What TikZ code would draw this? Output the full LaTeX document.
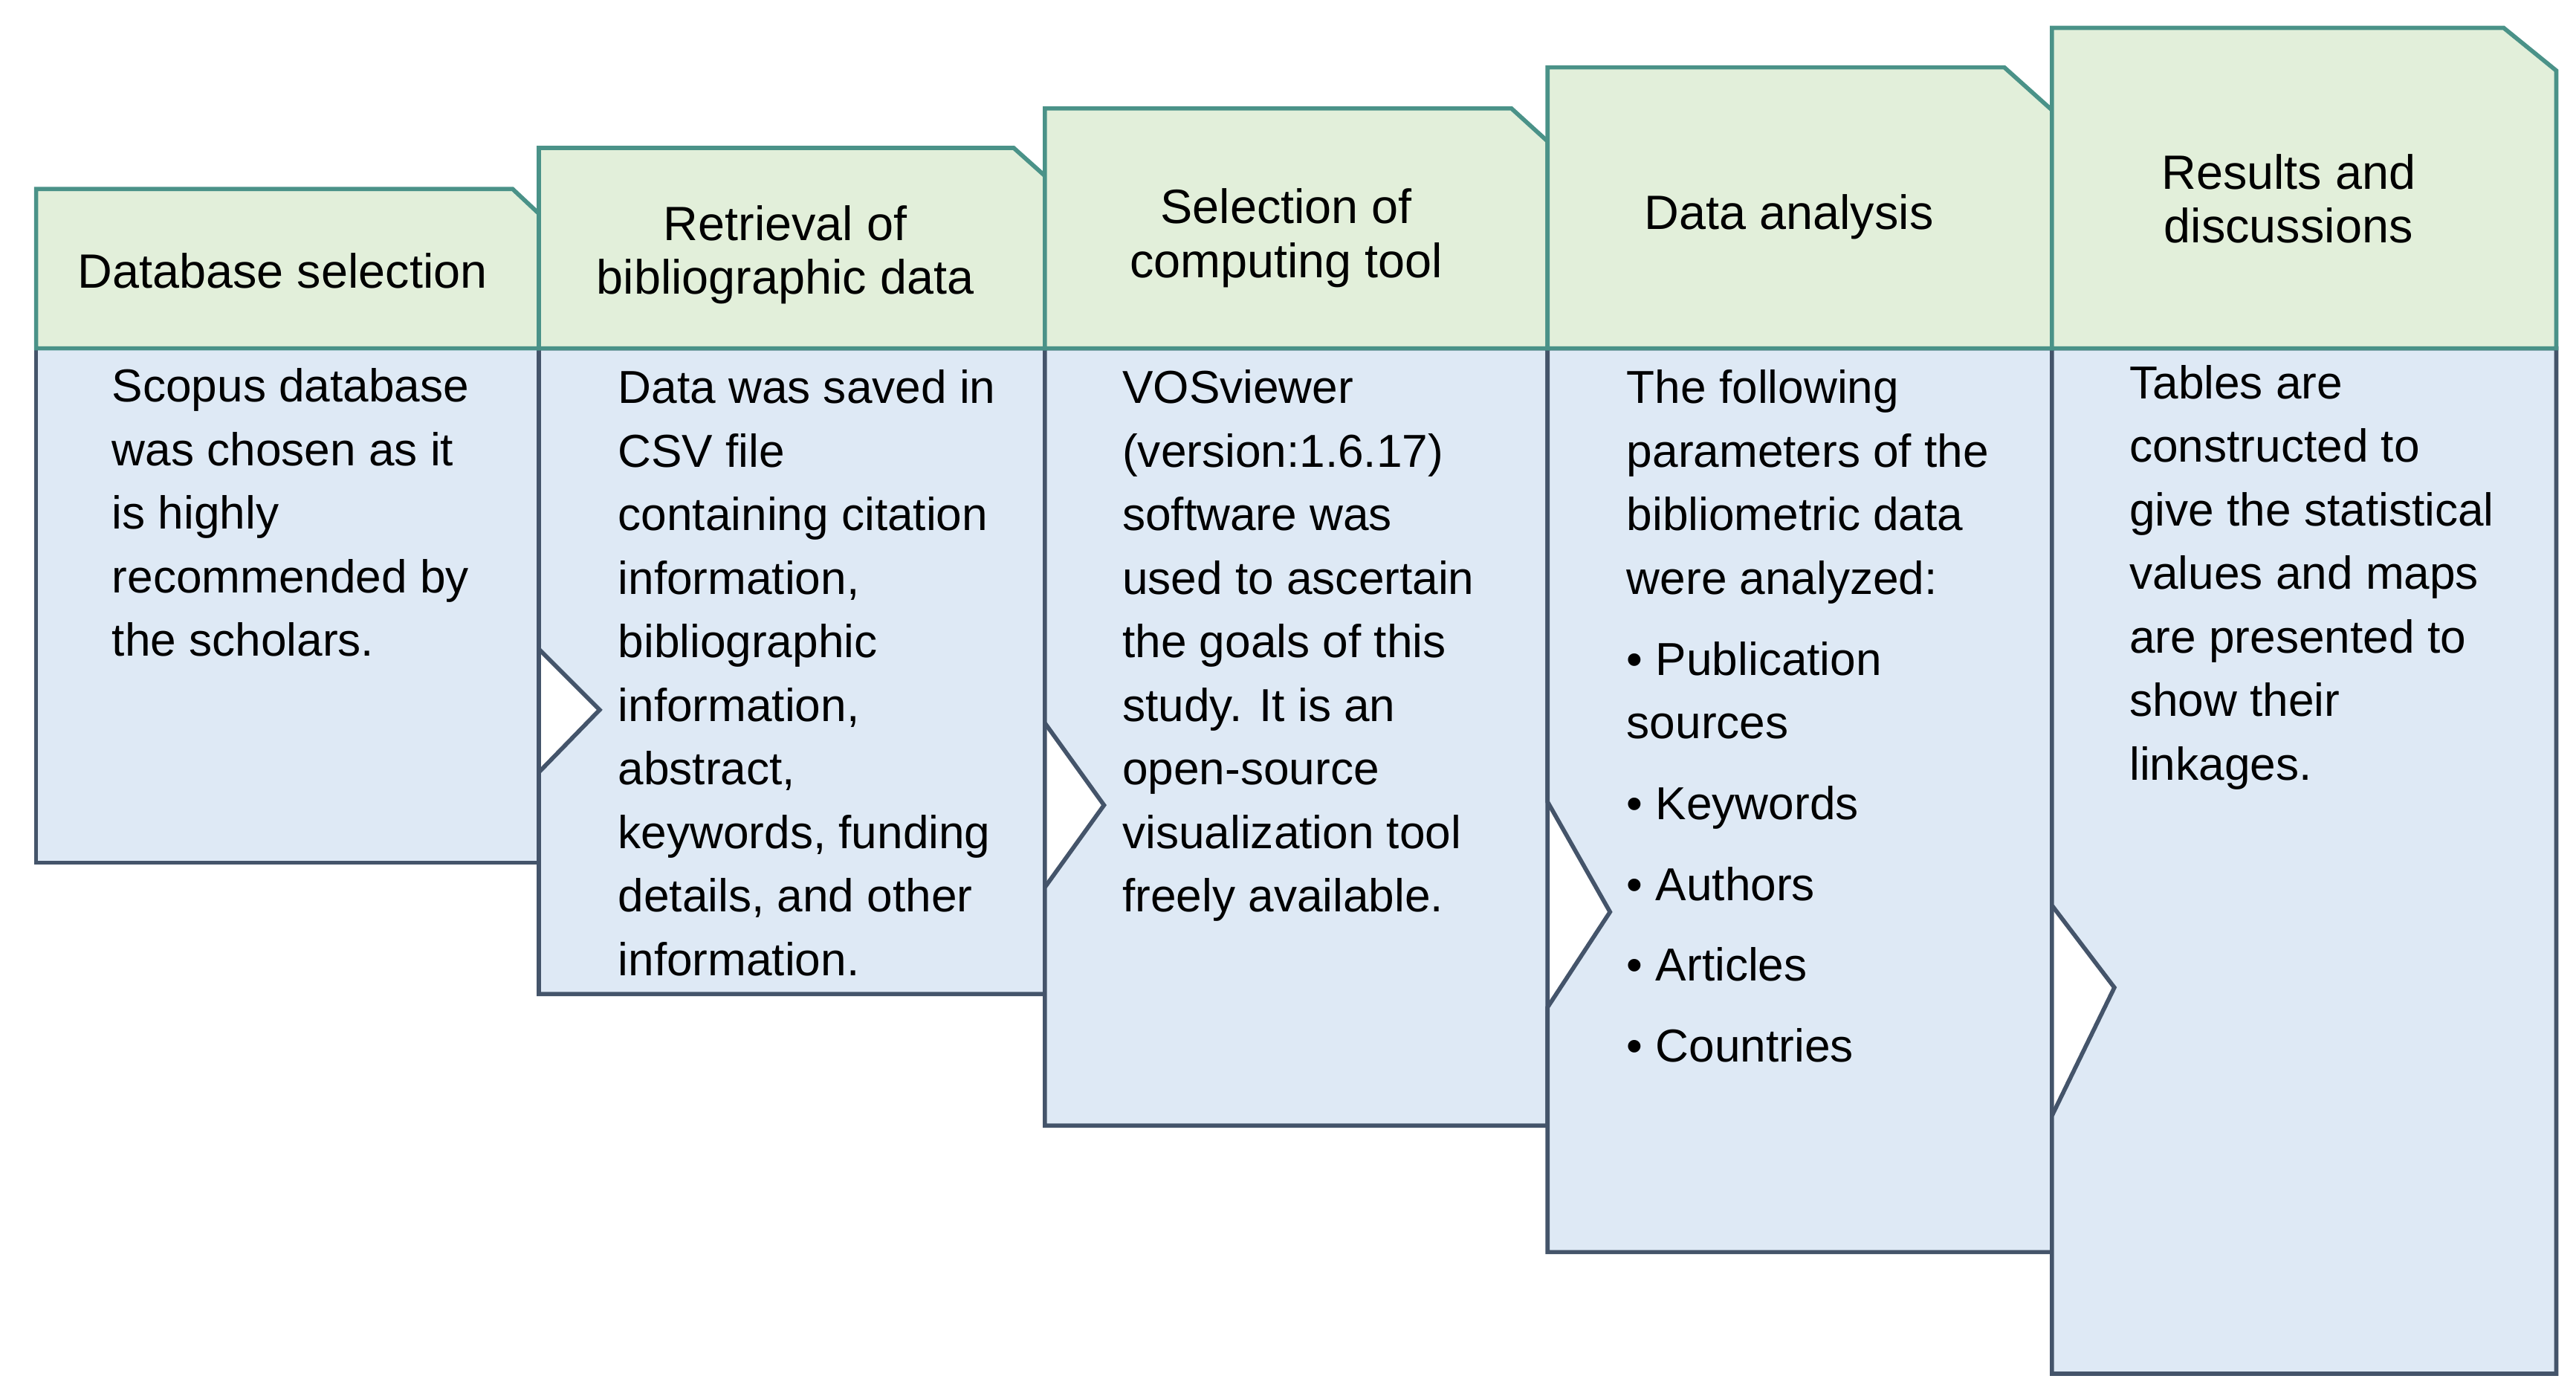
\documentclass[tikz,border=0pt]{standalone}
\usepackage{fontspec}
\setmainfont{Liberation Sans}
\definecolor{hfill}{HTML}{E2EFDA}
\definecolor{hline}{HTML}{4A9288}
\definecolor{bfill}{HTML}{DEE9F5}
\definecolor{bline}{HTML}{44546A}
\begin{document}
\begin{tikzpicture}[x=0.03cm,y=-0.03cm,
  hdr/.style={fill=hfill,draw=hline,line width=2.2pt,line join=miter},
  bod/.style={fill=bfill,draw=bline,line width=2.2pt,line join=miter},
  htxt/.style={font=\fontsize{25}{28}\selectfont,align=center,inner sep=0pt},
  btxt/.style={font=\fontsize{24}{33}\selectfont,align=left,inner sep=0pt,anchor=north west}]
\useasboundingbox (0,0) rectangle (1568,851);
% bodies
\draw[bod] (22,212) -- (328,212) -- (328,525) -- (22,525) -- cycle;
\draw[bod] (328,212) -- (636,212) -- (636,605) -- (328,605) -- (328,470) -- (365,432) -- (328,395) -- cycle;
\draw[bod] (636,212) -- (942,212) -- (942,685) -- (636,685) -- (636,540) -- (672,490) -- (636,440) -- cycle;
\draw[bod] (942,212) -- (1249,212) -- (1249,762) -- (942,762) -- (942,613) -- (980,555) -- (942,488) -- cycle;
\draw[bod] (1249,212) -- (1556,212) -- (1556,836) -- (1249,836) -- (1249,679) -- (1287,601) -- (1249,551) -- cycle;
% headers
\draw[hdr] (22,212) -- (22,115) -- (312,115) -- (328,130) -- (328,212) -- cycle;
\draw[hdr] (328,212) -- (328,90) -- (617,90) -- (636,107) -- (636,212) -- cycle;
\draw[hdr] (636,212) -- (636,66) -- (920,66) -- (942,86) -- (942,212) -- cycle;
\draw[hdr] (942,212) -- (942,41) -- (1220,41) -- (1249,67) -- (1249,212) -- cycle;
\draw[hdr] (1249,212) -- (1249,17) -- (1524,17) -- (1556,43) -- (1556,212) -- cycle;
% header texts
\node[htxt] (h1) at (172,165) {Database selection};
\node[htxt] (h2) at (478,155) {Retrieval of\\bibliographic data};
\node[htxt] (h3) at (783,145) {Selection of\\computing tool};
\node[htxt] (h4) at (1089,132) {Data analysis};
\node[htxt] (h5) at (1393,121) {Results and\\discussions};
% body texts
\node[btxt] (b1) at (68,224) {Scopus database\\was chosen as it\\is highly\\recommended by\\the scholars.};
\node[btxt] (b2) at (376,225) {Data was saved in\\CSV file\\containing citation\\information,\\bibliographic\\information,\\abstract,\\keywords, funding\\details, and other\\information.};
\node[btxt] (b3) at (683,225) {VOSviewer\\(version:1.6.17)\\software was\\used to ascertain\\the goals of this\\study. It is an\\open-source\\visualization tool\\freely available.};
\node[btxt] (b4) at (990,225) {The following\\parameters of the\\bibliometric data\\were analyzed:\\[9pt]%
\textbullet\ Publication\\sources\\[9pt]\textbullet\ Keywords\\[9pt]\textbullet\ Authors\\[9pt]\textbullet\ Articles\\[9pt]\textbullet\ Countries};
\node[btxt] (b5) at (1296,222) {Tables are\\constructed to\\give the statistical\\values and maps\\are presented to\\show their\\linkages.};
\end{tikzpicture}
\end{document}
